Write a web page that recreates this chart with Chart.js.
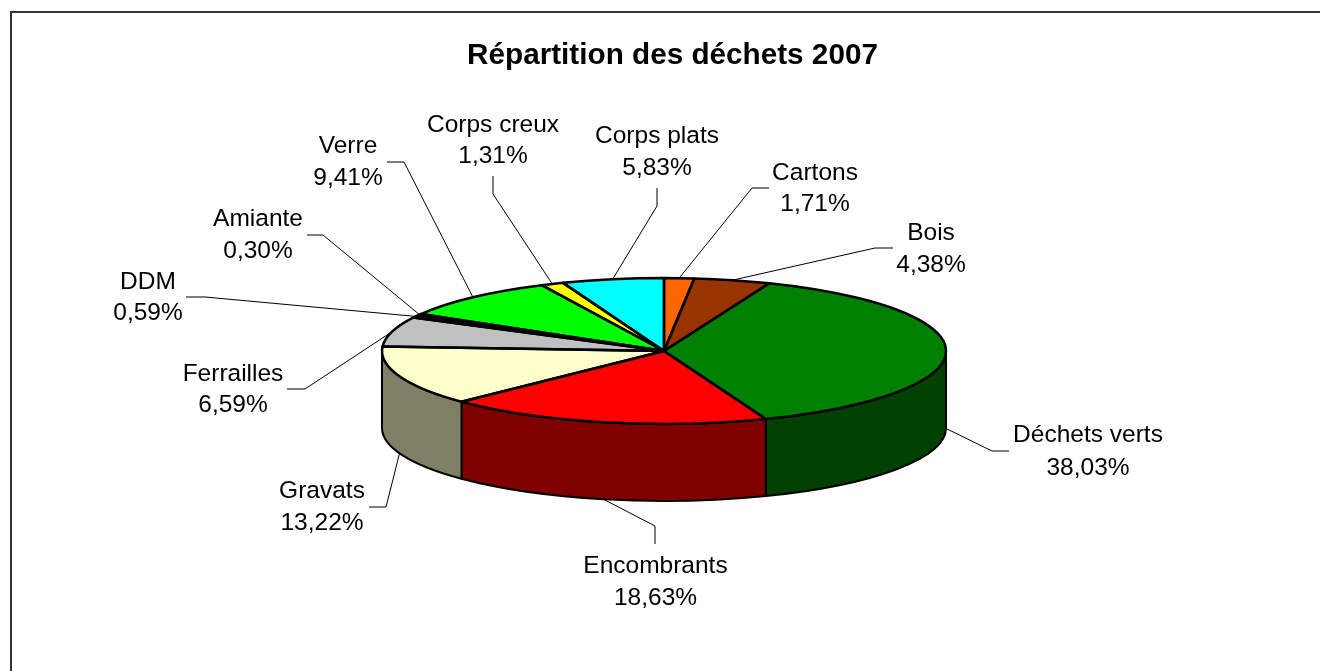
<!DOCTYPE html>
<html lang="fr">
<head>
<meta charset="utf-8">
<title>Répartition des déchets 2007</title>
<script src="https://cdn.jsdelivr.net/npm/chart.js@4/dist/chart.umd.min.js"></script>
<style>
  html, body { margin: 0; padding: 0; background: #fff; }
  canvas { display: block; }
</style>
</head>
<body>
<canvas id="pie" width="1320" height="671"></canvas>
<script>
// Data, clockwise from the top
const categories = ['Cartons', 'Bois', 'Déchets verts', 'Encombrants', 'Gravats', 'Ferrailles', 'DDM', 'Amiante', 'Verre', 'Corps creux', 'Corps plats'];
const shares = [1.71, 4.38, 38.03, 18.63, 13.22, 6.59, 0.59, 0.30, 9.41, 1.31, 5.83];

// Colours of the top face and of the side wall
const topColours = ['#FF6600', '#993300', '#008000', '#FF0000', '#FFFFCC', '#C0C0C0', '#000000', '#333333', '#00FF00', '#FFFF00', '#00FFFF'];
const wallColours = ['#803300', '#4D1A00', '#004000', '#800000', '#808066', '#606060', '#000000', '#1A1A1A', '#008000', '#808000', '#008080'];

// Where each label sits: text centre x, y of both lines, then the leader's two fixed points
const labelX = [815, 931, 1088, 655.5, 322, 233, 148, 258, 348, 493, 657];
const labelY1 = [173, 233, 435, 566, 491, 374, 282, 219, 146, 125, 136];
const labelY2 = [204, 265, 468, 598, 523, 405, 313, 251, 178, 156, 168];
const leaderStart = [[769, 188], [893, 248], [1009, 451], [655, 544], [369, 507], [287, 389], [186, 297], [307, 235], [387, 162], [493, 176], [657, 188]];
const leaderElbow = [[752, 188], [875, 248], [992, 451], [655, 526], [386, 507], [305, 389], [205, 297], [323, 235], [404, 162], [493, 194], [657, 206]];

const tilt = 73 / 282;   // ry / rx of the top face
const depth = 77;        // height of the wall
const fontName = '"Liberation Sans", Arial, sans-serif';

function sectorPath(ctx, arc) {
    ctx.beginPath();
    ctx.moveTo(arc.x, arc.y);
    ctx.ellipse(arc.x, arc.y, arc.outerRadius, arc.outerRadius * tilt, 0, arc.startAngle, arc.endAngle);
    ctx.closePath();
}

const pie3d = {
    id: 'pie3d',
    beforeDraw(chart) {
        // the frame only shows on the left and on top
        const ctx = chart.ctx;
        ctx.save();
        ctx.fillStyle = '#333333';
        ctx.fillRect(10, 11, 1310, 2);
        ctx.fillRect(10, 11, 2, 660);
        ctx.restore();
    },
    afterLayout(chart) {
        // title is not centred over the pie in the original
        chart.titleBlock.left += 8.5;
        chart.titleBlock.right += 8.5;
    },
    beforeDatasetsDraw(chart) {
        const ctx = chart.ctx;
        const arcs = chart.getDatasetMeta(0).data;

        // side wall, only the front half of the ellipse can be seen
        ctx.save();
        ctx.lineWidth = 2;
        ctx.strokeStyle = '#000';
        ctx.lineJoin = 'round';
        arcs.forEach((arc, i) => {
            const a = Math.max(arc.startAngle, 0);
            const b = Math.min(arc.endAngle, Math.PI);
            if (b <= a) return;
            const ry = arc.outerRadius * tilt;
            ctx.beginPath();
            ctx.ellipse(arc.x, arc.y, arc.outerRadius, ry, 0, a, b);
            ctx.ellipse(arc.x, arc.y + depth, arc.outerRadius, ry, 0, b, a, true);
            ctx.closePath();
            ctx.fillStyle = wallColours[i];
            ctx.fill();
            ctx.stroke();
        });
        ctx.restore();

        // squash the library's round pie into the top face
        const first = arcs[0];
        ctx.save();
        ctx.translate(first.x, first.y);
        ctx.scale(1, tilt);
        ctx.translate(-first.x, -first.y);
    },
    afterDatasetsDraw(chart) {
        const ctx = chart.ctx;
        ctx.restore();
        const arcs = chart.getDatasetMeta(0).data;

        ctx.save();
        ctx.lineWidth = 2.5;
        ctx.strokeStyle = '#000';
        ctx.lineJoin = 'round';
        arcs.forEach(arc => {
            sectorPath(ctx, arc);
            ctx.stroke();
        });
        ctx.restore();

        // leaders and labels
        ctx.save();
        ctx.lineWidth = 1;
        ctx.strokeStyle = '#000';
        ctx.fillStyle = '#000';
        ctx.font = '24.5px ' + fontName;
        ctx.textAlign = 'center';
        ctx.textBaseline = 'middle';
        arcs.forEach((arc, i) => {
            const mid = (arc.startAngle + arc.endAngle) / 2;
            const endX = arc.x + arc.outerRadius * Math.cos(mid);
            let endY = arc.y + arc.outerRadius * tilt * Math.sin(mid);
            if (Math.sin(mid) > 0) endY += depth;
            ctx.beginPath();
            ctx.moveTo(leaderStart[i][0], leaderStart[i][1]);
            ctx.lineTo(leaderElbow[i][0], leaderElbow[i][1]);
            ctx.lineTo(endX, endY);
            ctx.stroke();
            ctx.fillText(categories[i], labelX[i], labelY1[i]);
            ctx.fillText(shares[i].toFixed(2).replace('.', ',') + '%', labelX[i], labelY2[i]);
        });
        ctx.restore();
    }
};

new Chart(document.getElementById('pie'), {
    type: 'pie',
    data: {
        labels: categories,
        datasets: [{
            data: shares,
            backgroundColor: topColours,
            borderWidth: 0
        }]
    },
    options: {
        responsive: false,
        animation: false,
        layout: { padding: { left: 382, right: 374, top: 0, bottom: 38 } },
        plugins: {
            legend: { display: false },
            tooltip: { enabled: false },
            title: {
                display: true,
                text: 'Répartition des déchets 2007',
                color: '#000',
                font: { family: fontName, size: 29.7, weight: 'bold', lineHeight: 0.8 },
                padding: { top: 44, bottom: 1.24 }
            }
        }
    },
    plugins: [pie3d]
});
</script>
</body>
</html>
